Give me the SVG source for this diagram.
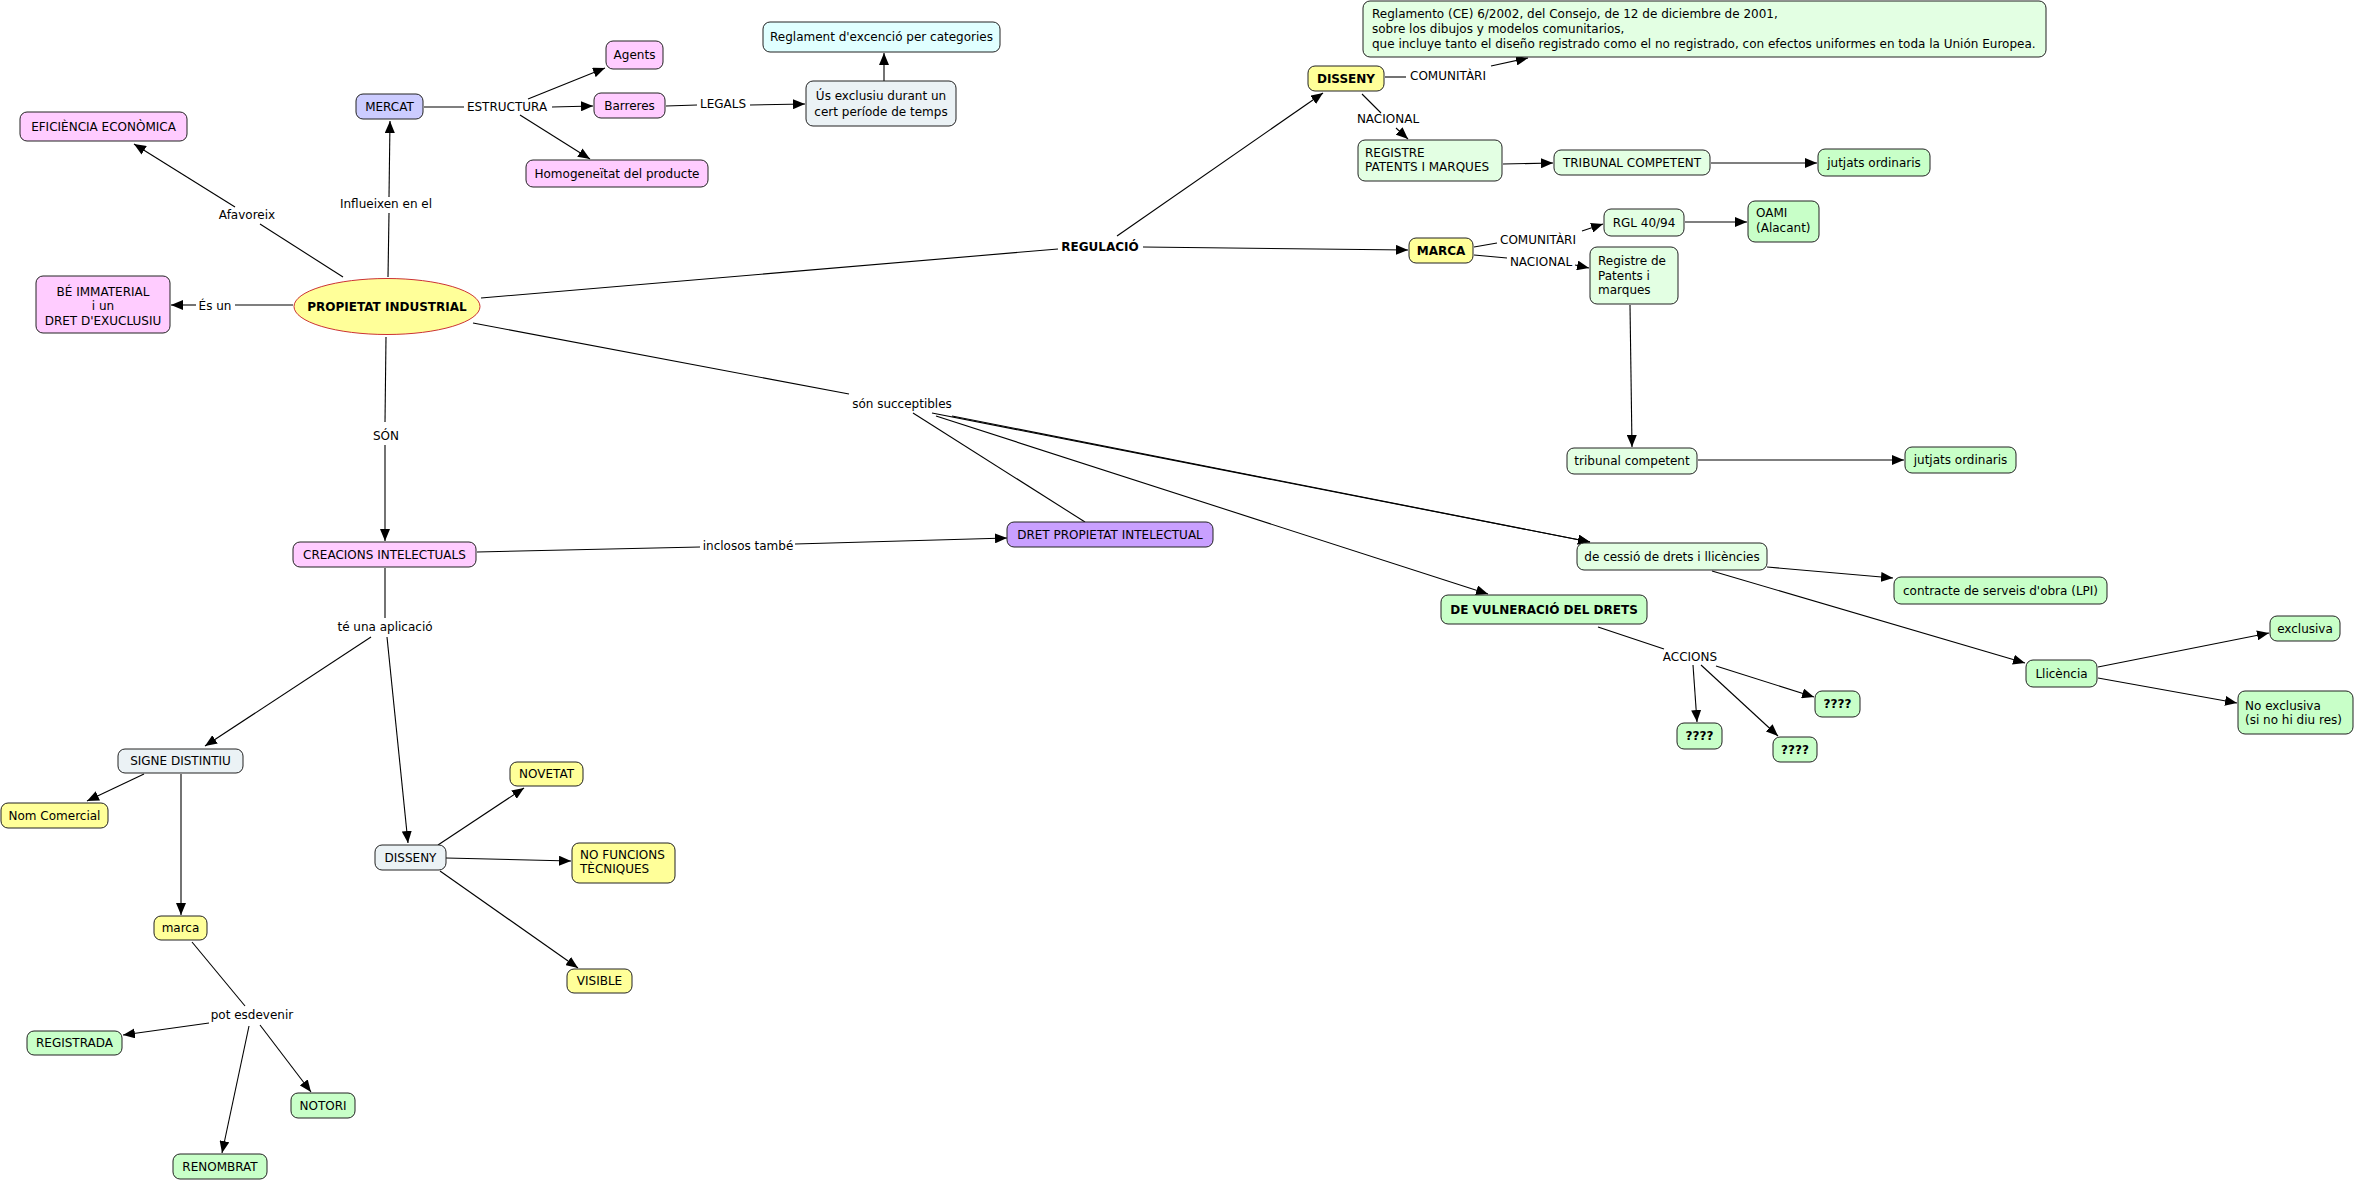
<svg xmlns="http://www.w3.org/2000/svg" width="2356" height="1182" viewBox="0 0 2356 1182">
<defs>
<marker id="ah" markerWidth="12" markerHeight="10" refX="12" refY="5" orient="auto" markerUnits="userSpaceOnUse"><path d="M0,0 L12,5 L0,10 z" fill="#000"/></marker>
<style>
text{font-family:"DejaVu Sans","Verdana",sans-serif;font-size:12px;fill:#000}
.b{font-weight:bold}
.c{text-anchor:middle}
rect{stroke:#222;stroke-width:1;rx:7;ry:7}
.pink{fill:#FFCCFF}
.lav{fill:#CCCCFF}
.cyan{fill:#E0FFFF}
.grey{fill:#EBF2F5}
.yel{fill:#FFFF99}
.lg{fill:#E3FFE3}
.g{fill:#C8FFC8}
.pur{fill:#C9A0FF}
#conn line,#conn polyline{stroke:#000;stroke-width:1.1;fill:none}
#conn .ar{marker-end:url(#ah)}
</style>
</defs>
<rect width="2356" height="1182" fill="#fff" style="stroke:none"/>
<g id="conn">
<line x1="343" y1="277" x2="260" y2="224"/><line class="ar" x1="235" y1="207" x2="134" y2="144"/>
<line x1="388" y1="277" x2="389" y2="213"/><line class="ar" x1="389" y1="197" x2="390" y2="121"/>
<line x1="293" y1="305" x2="235" y2="305"/><line class="ar" x1="196" y1="305" x2="171" y2="305"/>
<line x1="424" y1="107" x2="464" y2="107"/><line class="ar" x1="552" y1="107" x2="593" y2="106"/>
<line class="ar" x1="528" y1="99" x2="605" y2="68"/><line class="ar" x1="520" y1="115" x2="590" y2="159"/>
<line x1="666" y1="106" x2="697" y2="105"/><line class="ar" x1="750" y1="105" x2="805" y2="104"/>
<line class="ar" x1="884" y1="81" x2="884" y2="53"/>
<line x1="481" y1="298" x2="1058" y2="249"/><line class="ar" x1="1117" y1="236" x2="1323" y2="93"/><line class="ar" x1="1143" y1="247" x2="1408" y2="250"/>
<line x1="1385" y1="77" x2="1406" y2="77"/><line class="ar" x1="1491" y1="66" x2="1528" y2="58"/>
<line x1="1362" y1="94" x2="1381" y2="113"/><line class="ar" x1="1396" y1="128" x2="1408" y2="139"/>
<line class="ar" x1="1503" y1="164" x2="1553" y2="163"/>
<line class="ar" x1="1711" y1="163" x2="1817" y2="163"/>
<line x1="1474" y1="247" x2="1497" y2="243"/><line class="ar" x1="1582" y1="231" x2="1603" y2="224"/>
<line class="ar" x1="1685" y1="222" x2="1747" y2="222"/>
<line x1="1474" y1="255" x2="1507" y2="258"/><line class="ar" x1="1575" y1="265" x2="1589" y2="268"/>
<line class="ar" x1="1630" y1="305" x2="1632" y2="447"/>
<line class="ar" x1="1698" y1="460" x2="1904" y2="460"/>
<line x1="473" y1="323" x2="849" y2="394"/>
<line x1="913" y1="413" x2="1085" y2="522"/>
<line class="ar" x1="936" y1="416" x2="1488" y2="594"/>
<line class="ar" x1="932" y1="413" x2="1590" y2="542"/>
<line class="ar" x1="952" y1="416" x2="1590" y2="542"/>
<line x1="386" y1="337" x2="385" y2="422"/><line class="ar" x1="385" y1="445" x2="385" y2="541"/>
<line x1="477" y1="552" x2="700" y2="547"/><line class="ar" x1="795" y1="544" x2="1007" y2="538"/>
<line x1="385" y1="568" x2="385" y2="618"/><line class="ar" x1="371" y1="637" x2="205" y2="746"/><line class="ar" x1="387" y1="637" x2="408" y2="843"/>
<line class="ar" x1="144" y1="774" x2="87" y2="801"/><line class="ar" x1="181" y1="774" x2="181" y2="915"/>
<line x1="192" y1="942" x2="245" y2="1006"/><line class="ar" x1="209" y1="1023" x2="123" y2="1035"/><line class="ar" x1="249" y1="1026" x2="222" y2="1153"/><line class="ar" x1="260" y1="1025" x2="311" y2="1092"/>
<line class="ar" x1="438" y1="845" x2="524" y2="788"/><line class="ar" x1="446" y1="858" x2="571" y2="861"/><line class="ar" x1="440" y1="871" x2="578" y2="968"/>
<line class="ar" x1="1767" y1="567" x2="1893" y2="578"/><line class="ar" x1="1712" y1="571" x2="2025" y2="663"/>
<line class="ar" x1="2098" y1="667" x2="2269" y2="633"/><line class="ar" x1="2098" y1="678" x2="2237" y2="703"/>
<line x1="1598" y1="627" x2="1664" y2="649"/><line class="ar" x1="1693" y1="665" x2="1697" y2="722"/><line class="ar" x1="1701" y1="665" x2="1778" y2="736"/><line class="ar" x1="1716" y1="666" x2="1814" y2="697"/>
</g>
<g id="labels">
<text class="c" x="247" y="219">Afavoreix</text>
<text class="c" x="386" y="208">Influeixen en el</text>
<text class="c" x="215" y="310">És un</text>
<text class="c" x="507" y="111">ESTRUCTURA</text>
<text class="c" x="723" y="108">LEGALS</text>
<text class="c b" x="1100" y="251">REGULACIÓ</text>
<text class="c" x="1448" y="80">COMUNITÀRI</text>
<text class="c" x="1388" y="123">NACIONAL</text>
<text class="c" x="1538" y="244">COMUNITÀRI</text>
<text class="c" x="1541" y="266">NACIONAL</text>
<text class="c" x="902" y="408">són succeptibles</text>
<text class="c" x="386" y="440">SÓN</text>
<text class="c" x="748" y="550">inclosos també</text>
<text class="c" x="385" y="631">té una aplicació</text>
<text class="c" x="1690" y="661">ACCIONS</text>
<text class="c" x="252" y="1019">pot esdevenir</text>
</g>
<g id="n-pi"><ellipse cx="387" cy="306.5" rx="93" ry="28" fill="#FFFF99" stroke="#CC3333" stroke-width="1"/><text class="c b" x="387" y="311">PROPIETAT INDUSTRIAL</text></g>
<g id="n-efi"><rect class="pink" x="20" y="112" width="167" height="29"/><text class="c" x="103.5" y="131">EFICIÈNCIA ECONÒMICA</text></g>
<g id="n-mercat"><rect class="lav" x="356" y="94" width="67" height="25"/><text class="c" x="389.5" y="111">MERCAT</text></g>
<g id="n-agents"><rect class="pink" x="606" y="41" width="57" height="28"/><text class="c" x="634.5" y="59">Agents</text></g>
<g id="n-barreres"><rect class="pink" x="594" y="93" width="71" height="25"/><text class="c" x="629.5" y="110">Barreres</text></g>
<g id="n-homog"><rect class="pink" x="526" y="160" width="182" height="27"/><text class="c" x="617" y="178">Homogeneïtat del producte</text></g>
<g id="n-reglament"><rect class="cyan" x="763" y="22" width="237" height="30"/><text class="c" x="881.5" y="41">Reglament d'excenció per categories</text></g>
<g id="n-us"><rect class="grey" x="806" y="81" width="150" height="45"/><text class="c" x="881" y="100">Ús exclusiu durant un</text><text class="c" x="881" y="116">cert període de temps</text></g>
<g id="n-be"><rect class="pink" x="36" y="276" width="134" height="57"/><text class="c" x="103" y="296">BÉ IMMATERIAL</text><text class="c" x="103" y="310">i un</text><text class="c" x="103" y="325">DRET D'EXUCLUSIU</text></g>
<g id="n-disseny"><rect class="yel" x="1308" y="66" width="76" height="25"/><text class="c b" x="1346" y="83">DISSENY</text></g>
<g id="n-reglamento"><rect class="lg" x="1363" y="1" width="683" height="56"/><text x="1372" y="18">Reglamento (CE) 6/2002, del Consejo, de 12 de diciembre de 2001,</text><text x="1372" y="33">sobre los dibujos y modelos comunitarios,</text><text x="1372" y="48">que incluye tanto el diseño registrado como el no registrado, con efectos uniformes en toda la Unión Europea.</text></g>
<g id="n-registre"><rect class="lg" x="1358" y="140" width="144" height="41"/><text x="1365" y="157">REGISTRE</text><text x="1365" y="171">PATENTS I MARQUES</text></g>
<g id="n-tribunal"><rect class="lg" x="1554" y="150" width="156" height="25"/><text class="c" x="1632" y="167">TRIBUNAL COMPETENT</text></g>
<g id="n-jutjats1"><rect class="g" x="1818" y="149" width="112" height="27"/><text class="c" x="1874" y="167">jutjats ordinaris</text></g>
<g id="n-marca"><rect class="yel" x="1409" y="238" width="64" height="25"/><text class="c b" x="1441" y="255">MARCA</text></g>
<g id="n-rgl"><rect class="lg" x="1604" y="209" width="80" height="27"/><text class="c" x="1644" y="227">RGL 40/94</text></g>
<g id="n-oami"><rect class="g" x="1748" y="201" width="71" height="41"/><text x="1756" y="217">OAMI</text><text x="1756" y="232">(Alacant)</text></g>
<g id="n-registre2"><rect class="lg" x="1590" y="247" width="88" height="57"/><text x="1598" y="265">Registre de</text><text x="1598" y="280">Patents i</text><text x="1598" y="294">marques</text></g>
<g id="n-tribunal2"><rect class="lg" x="1567" y="448" width="130" height="26"/><text class="c" x="1632" y="465">tribunal competent</text></g>
<g id="n-jutjats2"><rect class="g" x="1905" y="447" width="111" height="26"/><text class="c" x="1960.5" y="464">jutjats ordinaris</text></g>
<g id="n-creacions"><rect class="pink" x="293" y="542" width="183" height="25"/><text class="c" x="384.5" y="559">CREACIONS INTELECTUALS</text></g>
<g id="n-dret"><rect class="pur" x="1007" y="522" width="206" height="25"/><text class="c" x="1110" y="539">DRET PROPIETAT INTELECTUAL</text></g>
<g id="n-cessio"><rect class="lg" x="1577" y="543" width="190" height="27"/><text class="c" x="1672" y="561">de cessió de drets i llicències</text></g>
<g id="n-contracte"><rect class="g" x="1894" y="577" width="213" height="27"/><text class="c" x="2000.5" y="595">contracte de serveis d'obra (LPI)</text></g>
<g id="n-vulneracio"><rect class="g" x="1441" y="595" width="206" height="29"/><text class="c b" x="1544" y="614">DE VULNERACIÓ DEL DRETS</text></g>
<g id="n-llicencia"><rect class="g" x="2026" y="660" width="71" height="27"/><text class="c" x="2061.5" y="678">Llicència</text></g>
<g id="n-exclusiva"><rect class="g" x="2270" y="616" width="70" height="25"/><text class="c" x="2305" y="633">exclusiva</text></g>
<g id="n-noexclusiva"><rect class="g" x="2238" y="691" width="115" height="43"/><text x="2245" y="710">No exclusiva</text><text x="2245" y="724">(si no hi diu res)</text></g>
<g id="n-q1"><rect class="g" x="1677" y="723" width="45" height="26"/><text class="c b" x="1699.5" y="740">????</text></g>
<g id="n-q2"><rect class="g" x="1773" y="737" width="44" height="25"/><text class="c b" x="1795" y="754">????</text></g>
<g id="n-q3"><rect class="g" x="1815" y="691" width="45" height="26"/><text class="c b" x="1837.5" y="708">????</text></g>
<g id="n-signe"><rect class="grey" x="118" y="749" width="125" height="24"/><text class="c" x="180.5" y="765">SIGNE DISTINTIU</text></g>
<g id="n-nom"><rect class="yel" x="1" y="803" width="107" height="25"/><text class="c" x="54.5" y="820">Nom Comercial</text></g>
<g id="n-disseny2"><rect class="grey" x="375" y="845" width="71" height="25"/><text class="c" x="410.5" y="862">DISSENY</text></g>
<g id="n-novetat"><rect class="yel" x="510" y="762" width="73" height="24"/><text class="c" x="546.5" y="778">NOVETAT</text></g>
<g id="n-nofuncions"><rect class="yel" x="572" y="843" width="103" height="40"/><text x="580" y="859">NO FUNCIONS</text><text x="580" y="873">TÈCNIQUES</text></g>
<g id="n-visible"><rect class="yel" x="567" y="969" width="65" height="24"/><text class="c" x="599.5" y="985">VISIBLE</text></g>
<g id="n-marca2"><rect class="yel" x="154" y="916" width="53" height="24"/><text class="c" x="180.5" y="932">marca</text></g>
<g id="n-registrada"><rect class="g" x="27" y="1031" width="95" height="24"/><text class="c" x="74.5" y="1047">REGISTRADA</text></g>
<g id="n-notori"><rect class="g" x="291" y="1093" width="64" height="25"/><text class="c" x="323" y="1110">NOTORI</text></g>
<g id="n-renombrat"><rect class="g" x="173" y="1154" width="94" height="25"/><text class="c" x="220" y="1171">RENOMBRAT</text></g>
</svg>
